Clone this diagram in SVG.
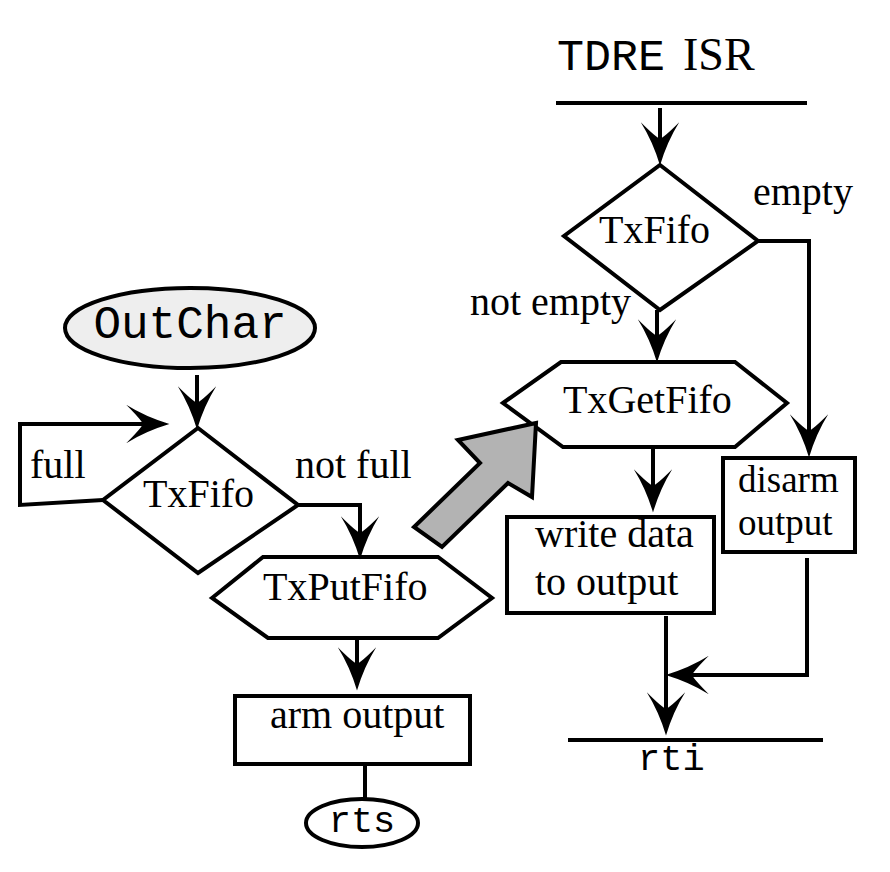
<svg xmlns="http://www.w3.org/2000/svg" width="890" height="872" viewBox="0 0 890 872">
<defs>
<style>
.sh{fill:#fff;stroke:#000;stroke-width:4;stroke-linejoin:miter}
.ln{fill:none;stroke:#000;stroke-width:4}
.t{font-family:"Liberation Serif","Times New Roman",serif;font-size:40px;fill:#000}
.m{font-family:"Liberation Mono","Courier New",monospace;fill:#000}
</style>
<marker id="ah" markerUnits="userSpaceOnUse" orient="auto" refX="0" refY="0" markerWidth="60" markerHeight="60" viewBox="-30 -20 50 40" overflow="visible">
<path d="M12,0 Q-8,-6 -24,-16 Q-12,-4 -10,0 Q-12,4 -24,16 Q-8,6 12,0 Z" fill="#000"/>
</marker>
</defs>
<rect width="890" height="872" fill="#fff"/>

<g id="isr-title">
<text x="557" y="70" class="m" style="font-size:45px">TDRE</text>
<text x="683" y="70" class="t" style="font-size:46px">ISR</text>
<line x1="556" y1="103" x2="807" y2="103" class="ln"/>
</g>

<g id="txfifo-right">
<polygon points="660,165 758,241 660,310 564,236" class="sh"/>
<text x="599" y="243" class="t">TxFifo</text>
</g>

<g id="txgetfifo">
<polygon points="503,403 561,362 735,362 787,403 735,447 563,447" class="sh"/>
<text x="563" y="413" class="t">TxGetFifo</text>
</g>

<g id="write-data">
<rect x="507" y="517" width="207" height="96" class="sh"/>
<text x="535" y="547" class="t">write data</text>
<text x="535" y="595" class="t">to output</text>
</g>

<g id="disarm">
<rect x="723" y="458" width="132" height="94" class="sh"/>
<text x="738" y="492" class="t" style="font-size:37px">disarm</text>
<text x="738" y="535" class="t" style="font-size:37px">output</text>
</g>

<g id="rti">
<line x1="568" y1="740" x2="823" y2="740" class="ln"/>
<text x="638" y="770" class="m" style="font-size:37px">rti</text>
</g>

<g id="outchar">
<ellipse cx="190" cy="328" rx="125" ry="40" fill="#eeeeee" stroke="#000" stroke-width="4"/>
<text x="190" y="338" class="m" style="font-size:46px" text-anchor="middle">OutChar</text>
</g>

<g id="txfifo-left">
<polygon points="198,428 298,505 198,573 103,500" class="sh"/>
<text x="143" y="507" class="t">TxFifo</text>
</g>

<g id="txputfifo">
<polygon points="212,598 263,557 438,557 492,598 438,638 268,638" class="sh"/>
<text x="263" y="600" class="t">TxPutFifo</text>
</g>

<g id="arm-output">
<rect x="235" y="696" width="235" height="68" class="sh"/>
<text x="270" y="728" class="t">arm output</text>
</g>

<g id="rts">
<ellipse cx="362" cy="823" rx="56" ry="24" class="sh"/>
<text x="362" y="832" class="m" style="font-size:37px" text-anchor="middle">rts</text>
</g>

<g id="big-arrow">
<polygon points="536,423 458,440 480,463 414,527 442,547 508,483 532,497" fill="#b3b3b3" stroke="#000" stroke-width="4" stroke-linejoin="miter"/>
</g>

<g id="connectors">
<path d="M660,108 V151" class="ln" marker-end="url(#ah)"/>
<path d="M758,241 H809 V443" class="ln" marker-end="url(#ah)"/>
<path d="M657,310 V348" class="ln" marker-end="url(#ah)"/>
<path d="M653,449 V498" class="ln" marker-end="url(#ah)"/>
<path d="M666,616 V721" class="ln" marker-end="url(#ah)"/>
<path d="M807,558 V675 H680" class="ln" marker-end="url(#ah)"/>
<path d="M197,375 V415" class="ln" marker-end="url(#ah)"/>
<path d="M103,500 L20,505 V424 H155" class="ln" marker-end="url(#ah)"/>
<path d="M298,505 H360 V545" class="ln" marker-end="url(#ah)"/>
<path d="M357,640 V676" class="ln" marker-end="url(#ah)"/>
<path d="M365,764 V799" class="ln"/>
<text x="30" y="478" class="t">full</text>
<text x="295" y="478" class="t">not full</text>
<text x="753" y="205" class="t">empty</text>
<text x="470" y="315" class="t">not empty</text>
</g>
</svg>
